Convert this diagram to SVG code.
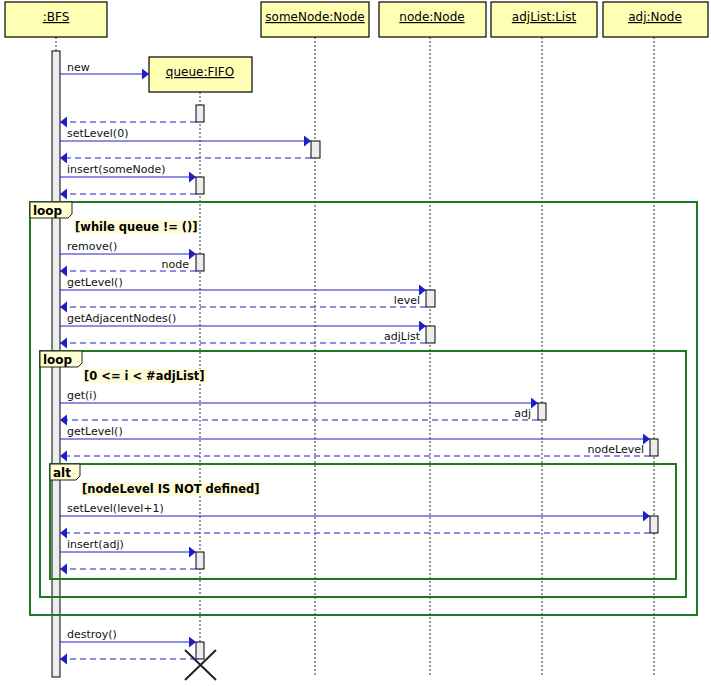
<svg xmlns="http://www.w3.org/2000/svg" width="711" height="686" viewBox="0 0 711 686">
<defs>
<style>
.hdr{fill:#ffffb4;stroke:#000;stroke-width:1.2}
.ht{font-family:"DejaVu Sans",sans-serif;font-size:12px;text-anchor:middle;text-decoration:underline;fill:#000}
.life{stroke:#333;stroke-width:1;stroke-dasharray:2,2;fill:none}
.act{fill:#ececec;stroke:#000;stroke-width:1}
.msg{stroke:#1f1fc8;stroke-width:1;fill:none;marker-end:url(#ah)}
.ret{stroke:#1f1fc8;stroke-width:1;fill:none;stroke-dasharray:6,4;marker-end:url(#ah)}
.ml{font-family:"DejaVu Sans",sans-serif;font-size:11px;fill:#111}
.rl{font-family:"DejaVu Sans",sans-serif;font-size:11px;fill:#111;text-anchor:end}
.frm{fill:none;stroke:#1e7a1e;stroke-width:2}
.tab{fill:#ffffd2;stroke:#222;stroke-width:1}
.tl{font-family:"DejaVu Sans",sans-serif;font-size:12px;font-weight:bold;fill:#000}
.gbg{fill:#fffbd6}
.gt{font-family:"DejaVu Sans",sans-serif;font-size:11.5px;font-weight:bold;fill:#000}
</style>
<marker id="ah" markerUnits="userSpaceOnUse" markerWidth="8" markerHeight="12" refX="7" refY="5.5" orient="auto">
<path d="M0,0 L7,5.5 L0,11 z" fill="#1f1fc8"/>
</marker>
</defs>

<g id="lifelines">
<line class="life" x1="56" y1="37" x2="56" y2="51"/>
<line class="life" x1="200" y1="92" x2="200" y2="645"/>
<line class="life" x1="315" y1="37" x2="315" y2="676"/>
<line class="life" x1="430" y1="37" x2="430" y2="676"/>
<line class="life" x1="542" y1="37" x2="542" y2="676"/>
<line class="life" x1="654" y1="37" x2="654" y2="676"/>
</g>

<g id="BFS">
<rect class="hdr" x="5" y="2" width="102" height="35"/>
<text class="ht" x="56" y="21">:BFS</text>
<rect class="act" x="52" y="51" width="8" height="626"/>
</g>
<g id="someNode">
<rect class="hdr" x="261" y="2" width="108" height="35"/>
<text class="ht" x="315" y="21">someNode:Node</text>
<rect class="act" x="311" y="141" width="9" height="17"/>
</g>
<g id="node">
<rect class="hdr" x="379" y="2" width="107" height="35"/>
<text class="ht" x="432" y="21">node:Node</text>
<rect class="act" x="426" y="290" width="9" height="17"/>
<rect class="act" x="426" y="326" width="9" height="17"/>
</g>
<g id="adjList">
<rect class="hdr" x="491" y="2" width="106" height="35"/>
<text class="ht" x="544" y="21">adjList:List</text>
<rect class="act" x="538" y="403" width="8" height="17"/>
</g>
<g id="adj">
<rect class="hdr" x="603" y="2" width="105" height="35"/>
<text class="ht" x="655" y="21">adj:Node</text>
<rect class="act" x="650" y="439" width="8" height="17"/>
<rect class="act" x="650" y="516" width="8" height="17"/>
</g>
<g id="queue">
<rect class="hdr" x="149" y="57" width="103" height="35"/>
<text class="ht" x="200" y="76">queue:FIFO</text>
<rect class="act" x="196" y="105" width="8" height="17"/>
<rect class="act" x="196" y="177" width="8" height="17"/>
<rect class="act" x="196" y="254" width="8" height="17"/>
<rect class="act" x="196" y="552" width="8" height="17"/>
<rect class="act" x="196" y="642" width="8" height="17"/>
<path d="M185,650 L216,680 M216,650 L185,680" stroke="#222" stroke-width="2" fill="none"/>
</g>

<g id="frames">
<g id="loop-outer">
<rect class="frm" x="30" y="202" width="667" height="413"/>
<path class="tab" d="M30,202 H72 V214 L68,218 H30 Z"/>
<text class="tl" x="33" y="215">loop</text>
<rect class="gbg" x="74" y="220" width="125" height="14"/>
<text class="gt" x="75" y="231">[while queue != ()]</text>
</g>
<g id="loop-inner">
<rect class="frm" x="40" y="351" width="646" height="246"/>
<path class="tab" d="M40,351 H82 V363 L78,367 H40 Z"/>
<text class="tl" x="43" y="364">loop</text>
<rect class="gbg" x="83" y="369" width="124" height="14"/>
<text class="gt" x="84" y="380">[0  &lt;= i &lt; #adjList]</text>
</g>
<g id="alt">
<rect class="frm" x="50" y="464" width="626" height="115"/>
<path class="tab" d="M50,464 H80 V476 L76,480 H50 Z"/>
<text class="tl" x="53" y="477">alt</text>
<rect class="gbg" x="81" y="482" width="179" height="14"/>
<text class="gt" x="82" y="493">[nodeLevel IS NOT defined]</text>
</g>
</g>

<g id="messages">
<line class="msg" x1="60" y1="74" x2="149" y2="74"/>
<text class="ml" x="67" y="71">new</text>
<line class="ret" x1="196" y1="122" x2="60" y2="122"/>

<line class="msg" x1="60" y1="141" x2="311" y2="141"/>
<text class="ml" x="67" y="137">setLevel(0)</text>
<line class="ret" x1="311" y1="158" x2="60" y2="158"/>

<line class="msg" x1="60" y1="177" x2="196" y2="177"/>
<text class="ml" x="67" y="173">insert(someNode)</text>
<line class="ret" x1="196" y1="194" x2="60" y2="194"/>

<line class="msg" x1="60" y1="254" x2="196" y2="254"/>
<text class="ml" x="67" y="250">remove()</text>
<text class="rl" x="189" y="268">node</text>
<line class="ret" x1="196" y1="271" x2="60" y2="271"/>

<line class="msg" x1="60" y1="290" x2="426" y2="290"/>
<text class="ml" x="67" y="286">getLevel()</text>
<text class="rl" x="420" y="304">level</text>
<line class="ret" x1="426" y1="307" x2="60" y2="307"/>

<line class="msg" x1="60" y1="326" x2="426" y2="326"/>
<text class="ml" x="67" y="322">getAdjacentNodes()</text>
<text class="rl" x="420" y="340">adjList</text>
<line class="ret" x1="426" y1="343" x2="60" y2="343"/>

<line class="msg" x1="60" y1="403" x2="538" y2="403"/>
<text class="ml" x="67" y="399">get(i)</text>
<text class="rl" x="531" y="417">adj</text>
<line class="ret" x1="538" y1="420" x2="60" y2="420"/>

<line class="msg" x1="60" y1="439" x2="650" y2="439"/>
<text class="ml" x="67" y="435">getLevel()</text>
<text class="rl" x="644" y="453">nodeLevel</text>
<line class="ret" x1="650" y1="456" x2="60" y2="456"/>

<line class="msg" x1="60" y1="516" x2="650" y2="516"/>
<text class="ml" x="67" y="512">setLevel(level+1)</text>
<line class="ret" x1="650" y1="533" x2="60" y2="533"/>

<line class="msg" x1="60" y1="552" x2="196" y2="552"/>
<text class="ml" x="67" y="548">insert(adj)</text>
<line class="ret" x1="196" y1="569" x2="60" y2="569"/>

<line class="msg" x1="60" y1="642" x2="196" y2="642"/>
<text class="ml" x="67" y="638">destroy()</text>
<line class="ret" x1="196" y1="659" x2="60" y2="659"/>
</g>
</svg>
